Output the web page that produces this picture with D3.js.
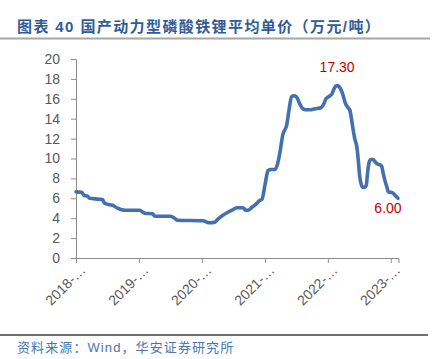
<!DOCTYPE html>
<html><head><meta charset="utf-8">
<script src="https://cdn.jsdelivr.net/npm/d3@7"></script>
<style>
html,body{margin:0;padding:0;background:#fff;}
svg{display:block;}
text{font-family:"Liberation Sans","Noto Sans CJK SC",sans-serif;}
</style></head>
<body>
<script>
const titleText = "图表 40 国产动力型磷酸铁锂平均单价（万元/吨）";
const sourceText = "资料来源：Wind，华安证券研究所";
const dates = ["2018-01-01","2018-02-04","2018-02-16","2018-03-10","2018-03-21","2018-05-18","2018-06-05","2018-06-16","2018-07-15","2018-08-02","2018-08-20","2018-09-01","2018-09-24","2018-10-11","2019-01-07","2019-01-24","2019-02-05","2019-03-21","2019-04-02","2019-07-04","2019-07-27","2019-08-14","2020-01-07","2020-01-30","2020-02-17","2020-03-16","2020-04-03","2020-05-02","2020-05-31","2020-06-23","2020-07-22","2020-08-26","2020-09-13","2020-09-25","2020-10-18","2020-11-10","2020-12-03","2020-12-15","2021-01-02","2021-01-19","2021-02-06","2021-03-01","2021-03-16","2021-03-28","2021-04-15","2021-05-08","2021-05-22","2021-06-04","2021-06-18","2021-07-03","2021-07-22","2021-08-09","2021-08-26","2021-09-19","2021-10-18","2021-11-22","2021-12-09","2021-12-21","2022-01-13","2022-01-25","2022-02-06","2022-02-18","2022-03-02","2022-03-16","2022-03-28","2022-04-12","2022-04-24","2022-05-08","2022-05-25","2022-06-06","2022-06-18","2022-06-27","2022-07-05","2022-07-14","2022-07-23","2022-08-03","2022-08-12","2022-08-21","2022-08-30","2022-09-08","2022-09-21","2022-10-01","2022-10-11","2022-10-24","2022-11-09","2022-11-17","2022-11-28","2022-12-10","2022-12-17","2023-01-02","2023-01-16","2023-01-26","2023-02-12"];
const prices = [6.65,6.6,6.3,6.2,6.0,5.9,5.85,5.5,5.35,5.3,5.1,5.0,4.85,4.8,4.8,4.6,4.5,4.45,4.2,4.2,4.0,3.8,3.75,3.6,3.55,3.6,3.9,4.3,4.6,4.8,5.05,5.05,4.8,4.8,5.1,5.4,5.8,5.9,7.4,8.8,8.9,8.9,9.5,10.5,12.4,13.4,15.0,16.2,16.3,16.2,15.5,15.0,14.9,14.9,15.0,15.1,15.5,16.0,16.3,16.5,17.0,17.3,17.3,17.0,16.5,15.6,15.2,14.9,13.2,12.0,11.2,9.8,8.2,7.4,7.1,7.1,7.3,8.8,9.7,9.9,9.9,9.7,9.5,9.4,9.25,8.6,7.8,7.1,6.65,6.6,6.5,6.3,6.0];
const yTicks = [0,2,4,6,8,10,12,14,16,18,20];
const xTickDates = ["2018-01-01","2019-01-01","2020-01-01","2021-01-01","2022-01-01","2023-01-01"];
const xTickLabels = ["2018-…","2019-…","2020-…","2021-…","2022-…","2023-…"];
const annotations = [{date:"2022-02-24", value:17.3, label:"17.30", dx:0, dy:-14}, {date:"2023-02-12", value:6.0, label:"6.00", dx:-10, dy:15}];

const W = 440, H = 359;
const parse = d3.timeParse("%Y-%m-%d");
const data = dates.map((d,i)=>({date:parse(d), value:prices[i]}));

const svg = d3.select("body").append("svg").attr("width",W).attr("height",H);

// Title
svg.append("text").attr("x",17).attr("y",32).text(titleText)
  .attr("font-size",15).attr("font-weight","bold").attr("fill","#2e5c99").attr("letter-spacing",1.4);
svg.append("line").attr("x1",0).attr("x2",430).attr("y1",38.5).attr("y2",38.5).attr("stroke","#a6a6a6").attr("stroke-width",2);

const x = d3.scaleTime().domain([parse("2018-01-01"), parse("2023-02-15")]).range([76, 398.5]);
const y = d3.scaleLinear().domain([0,20]).range([258, 59]);

const axisColor = "#8c8c8c";
// Y axis
const ya = svg.append("g").attr("transform","translate(76,0)")
  .call(d3.axisLeft(y).tickValues(yTicks).tickSize(5).tickPadding(11));
ya.select(".domain").attr("stroke",axisColor);
ya.selectAll(".tick line").attr("stroke",axisColor);
ya.selectAll(".tick text").attr("font-size",14).attr("fill","#595959").attr("font-family",'"Liberation Sans",sans-serif');

// X axis
const xa = svg.append("g").attr("transform","translate(0,258)")
  .call(d3.axisBottom(x).tickValues(xTickDates.map(parse)).tickSize(5).tickFormat((d,i)=>xTickLabels[i]));
xa.select(".domain").attr("stroke",axisColor);
xa.selectAll(".tick line").attr("stroke",axisColor);
xa.selectAll(".tick text").attr("font-size",14).attr("fill","#595959").attr("font-family",'"Liberation Sans",sans-serif')
  .attr("text-anchor","end").attr("dy",0).attr("y",0)
  .attr("transform","translate(10,13) rotate(-45)");

// Line
const line = d3.line().x(d=>x(d.date)).y(d=>y(d.value)).curve(d3.curveMonotoneX);
svg.append("path").datum(data).attr("d",line).attr("fill","none")
  .attr("stroke","#4470b0").attr("stroke-width",3.6).attr("stroke-linejoin","round").attr("stroke-linecap","round");

// Annotations
svg.selectAll(".ann").data(annotations).enter().append("text")
  .attr("x",d=>x(parse(d.date))+d.dx).attr("y",d=>y(d.value)+d.dy)
  .attr("text-anchor","middle").attr("font-size",14).attr("fill","#c00000").text(d=>d.label);

// Source
svg.append("line").attr("x1",0).attr("x2",428).attr("y1",335).attr("y2",335).attr("stroke","#404040").attr("stroke-width",1.5);
svg.append("text").attr("x",17).attr("y",352).attr("font-size",13).attr("fill","#4a76b0").attr("letter-spacing",1.1).text(sourceText);
</script>
</body></html>
